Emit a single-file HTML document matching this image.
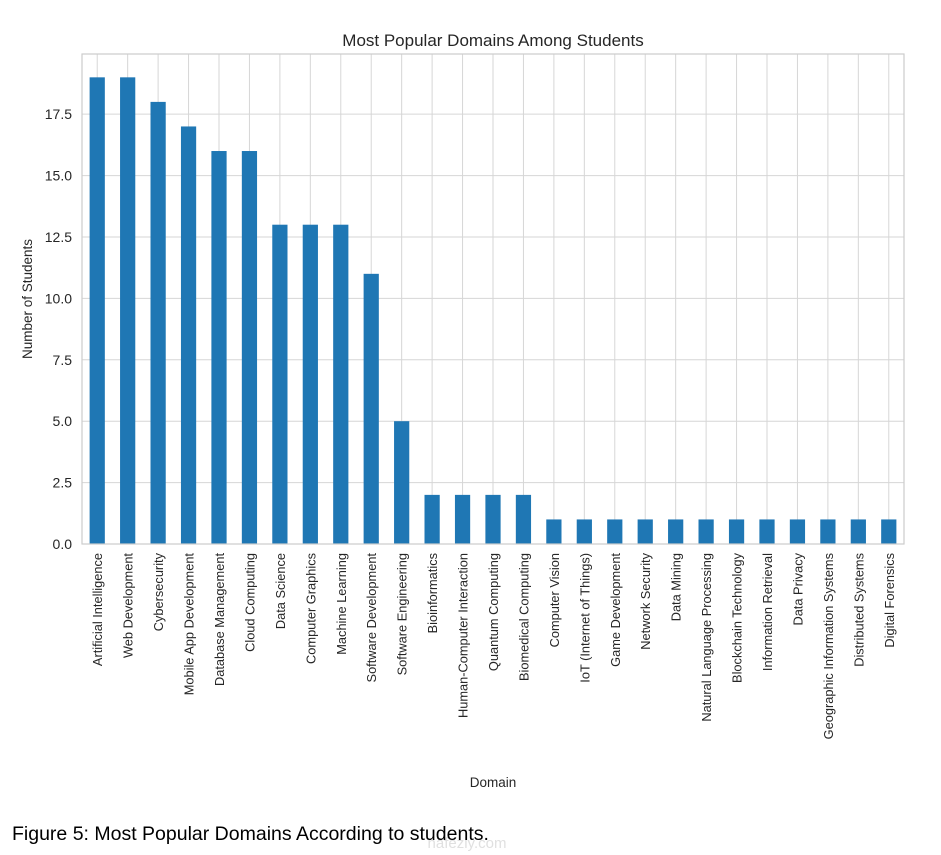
<!DOCTYPE html>
<html><head><meta charset="utf-8"><style>
body{margin:0;background:#fff;}
svg{display:block;font-family:"Liberation Sans",Arial,sans-serif;}
</style></head><body>
<svg id="chart" width="941" height="855"></svg>
<script>
const categories=["Artificial Intelligence","Web Development","Cybersecurity","Mobile App Development","Database Management","Cloud Computing","Data Science","Computer Graphics","Machine Learning","Software Development","Software Engineering","Bioinformatics","Human-Computer Interaction","Quantum Computing","Biomedical Computing","Computer Vision","IoT (Internet of Things)","Game Development","Network Security","Data Mining","Natural Language Processing","Blockchain Technology","Information Retrieval","Data Privacy","Geographic Information Systems","Distributed Systems","Digital Forensics"];
const counts=[19,19,18,17,16,16,13,13,13,11,5,2,2,2,2,1,1,1,1,1,1,1,1,1,1,1,1];
const yTicks=[0,2.5,5,7.5,10,12.5,15,17.5];
const yTickLabels=["0.0","2.5","5.0","7.5","10.0","12.5","15.0","17.5"];

const NS="http://www.w3.org/2000/svg";
const svg=document.getElementById('chart');
const L=82,R=904,T=54,B=544;
const yMax=Math.max(...counts)*1.05;
const y=v=>B-(v/yMax)*(B-T);
const step=(R-L)/categories.length;
const x=i=>L+step*(i+0.5);
function mk(tag,attrs,parent){const e=document.createElementNS(NS,tag);for(const k in attrs)e.setAttribute(k,attrs[k]);(parent||svg).appendChild(e);return e;}

let t=mk('text',{x:(L+R)/2,y:46,'text-anchor':'middle','font-size':17,fill:'#262626'});t.textContent="Most Popular Domains Among Students";



yTicks.forEach((v,i)=>{
  const g=mk('line',{x1:L,x2:R,y1:y(v),y2:y(v),stroke:'#d6d6d6','stroke-width':1});
  
  
  const tl=mk('text',{x:L-10,y:y(v)+5,'text-anchor':'end','font-size':14,fill:'#262626'});
  tl.textContent=yTickLabels[i];
  
  
});
categories.forEach((c,i)=>{
  const g=mk('line',{x1:x(i),x2:x(i),y1:T,y2:B,stroke:'#d6d6d6','stroke-width':1});
  
  
});
categories.forEach((c,i)=>{
  const bw=step*0.5;
  const b=mk('rect',{x:x(i)-bw/2,y:y(counts[i]),width:bw,height:B-y(counts[i]),fill:'#1f77b4'});
  
  
  const lb=mk('text',{transform:`translate(${x(i)+5},553) rotate(-90)`,'text-anchor':'end','font-size':12.8,fill:'#262626'});
  lb.textContent=c;
  
  
});
const f=mk('rect',{x:L,y:T,width:R-L,height:B-T,fill:'none',stroke:'#cccccc','stroke-width':1.2});


const yt=mk('text',{transform:`translate(32,${(T+B)/2}) rotate(-90)`,'text-anchor':'middle','font-size':13.5,fill:'#262626'});
yt.textContent="Number of Students";


const xt=mk('text',{x:(L+R)/2,y:787,'text-anchor':'middle','font-size':13.5,fill:'#262626'});
xt.textContent="Domain";


const wm=mk('text',{x:467,y:848,'text-anchor':'middle','font-size':15,fill:'#e0e0e0'});
wm.textContent="nafezly.com";


const cap=mk('text',{x:12,y:840,'font-size':19.5,fill:'#000'});
cap.textContent="Figure 5: Most Popular Domains According to students.";


</script>
</body></html>
